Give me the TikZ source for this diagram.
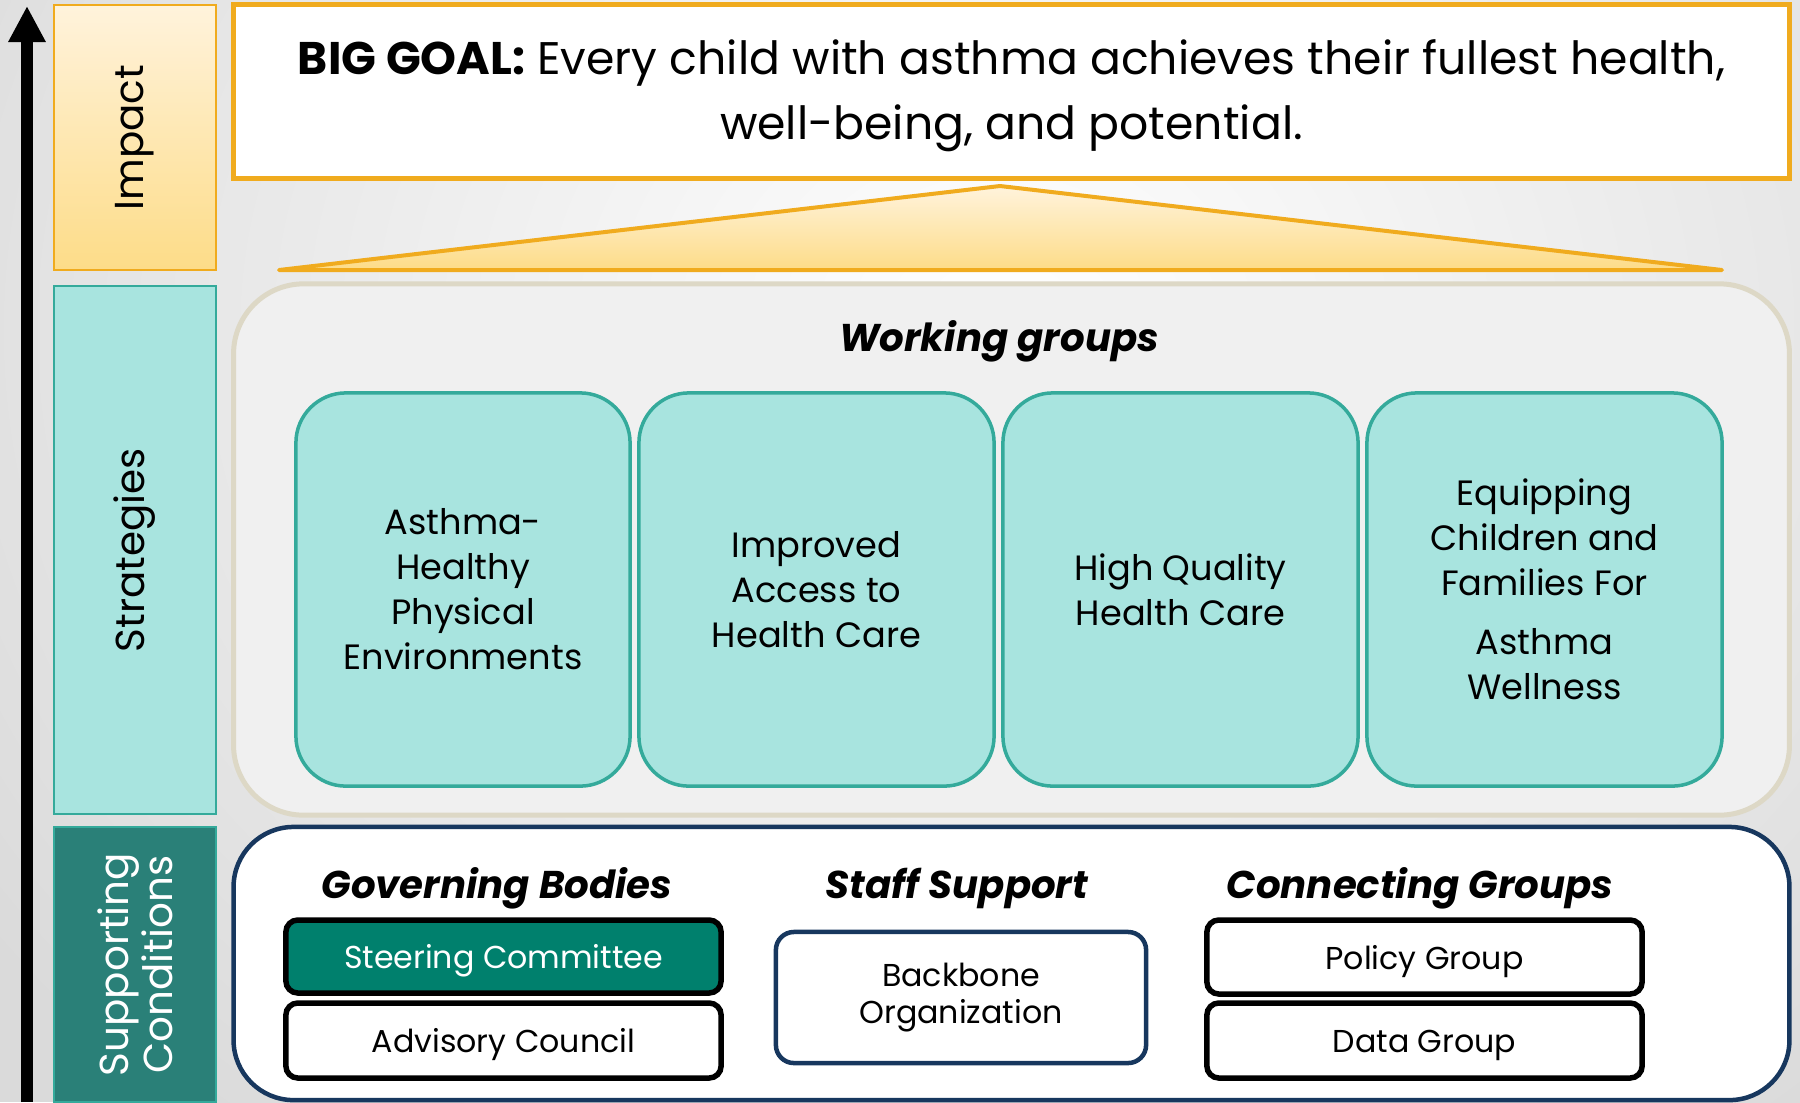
\documentclass[tikz,border=0pt]{standalone}
\usepackage{fontspec}
\setmainfont{Poppins}
\usetikzlibrary{arrows.meta}

\definecolor{goldline}{RGB}{240,171,30}
\definecolor{goldtop}{RGB}{255,243,220}
\definecolor{goldbot}{RGB}{253,220,136}
\definecolor{tealfill}{RGB}{168,228,223}
\definecolor{tealline}{RGB}{52,170,155}
\definecolor{supfill}{RGB}{42,128,120}
\definecolor{steerfill}{RGB}{0,128,109}
\definecolor{navyline}{RGB}{23,55,94}
\definecolor{beigeline}{RGB}{221,216,198}
\definecolor{panelfill}{RGB}{240,240,240}
\definecolor{bggray}{RGB}{218,218,218}

\begin{document}
\begin{tikzpicture}[x=0.01cm,y=-0.01cm]

	%DEFINITIONS
	\tikzstyle{every node}=[font=\fontsize{10}{12.8}\selectfont]
	\tikzstyle{sidebox} = [draw, line width=0.25mm, minimum width=1.62cm, inner sep=0pt]
	\tikzstyle{sidelabel} = [rotate=90, align=center, font=\fontsize{11.5}{13}\selectfont]
	\tikzstyle{panel} = [draw, minimum width=15.55cm, inner sep=0pt]
	\tikzstyle{group} = [draw=tealline, fill=tealfill, line width=0.35mm, rounded corners=0.5cm, minimum height=3.93cm, align=center, inner sep=0pt]
	\tikzstyle{header} = [font=\fontsize{11}{13}\selectfont\bfseries\itshape]
	\tikzstyle{body} = [draw=black, fill=white, line width=0.55mm, rounded corners=0.12cm, minimum width=4.35cm, minimum height=0.74cm, text height=9.3pt, text depth=2.3pt, font=\fontsize{9}{11}\selectfont]
	\tikzstyle{axis} = [line width=0.12cm, -{Triangle[width=3.5mm, length=3.6mm]}]

	%BACKGROUND
	\useasboundingbox (0,0) rectangle (1800,1102);
	\fill[bggray] (0,0) rectangle (1800,1102);
	\begin{scope}
		\clip (0,0) rectangle (1800,1102);
		\shade[inner color=white, outer color=bggray] (1000,330) ellipse (1250 and 1050);
	\end{scope}

	%ARROW
	\coordinate (axisbot) at (27,1102);
	\coordinate (axistop) at (27,6);
	\draw [axis] (axisbot) -- (axistop);

	%SIDE BLOCKS
	\draw(135,137.5) node[sidebox, draw=goldline, top color=goldtop, bottom color=goldbot, minimum height=2.65cm](impact){};
	\draw(135,550) node[sidebox, draw=tealline, fill=tealfill, minimum height=5.28cm](strat){};
	\draw(135,964.5) node[sidebox, draw=tealline, fill=supfill, minimum height=2.75cm](support){};
	\node[sidelabel] (impactlbl) at (impact) {Impact};
	\node[sidelabel] (stratlbl) at (strat) {Strategies};
	\node[sidelabel, text=white, font=\fontsize{11.5}{12.5}\selectfont] (supportlbl) at (support) {Supporting\\Conditions};

	%GOAL
	\draw(1011.5,91.5) node[panel, draw=goldline, fill=white, line width=0.05cm, minimum height=1.73cm](goal){};
	\draw(1011.5,96) node[align=center, font=\fontsize{13}{18.5}\selectfont](goaltext){\textbf{BIG GOAL:} Every child with asthma achieves their fullest health,\\well-being, and potential.};
	\coordinate (apex) at (1000,186);
	\coordinate (baseL) at (279,270);
	\coordinate (baseR) at (1722,270);
	\draw [goldline, line width=0.04cm, line join=round, top color=goldtop, bottom color=goldbot] (apex) -- (baseR) -- (baseL) -- cycle;

	%WORKING GROUPS
	\draw(1011.5,549.5) node[panel, draw=beigeline, fill=panelfill, line width=0.05cm, rounded corners=0.7cm, minimum height=5.31cm](work){};
	\draw(999,341) node[header](worktitle){Working groups};
	\draw(463,589.5) node[group, minimum width=3.34cm](g1){Asthma-\\Healthy\\Physical\\Environments};
	\draw(816.5,589.5) node[group, minimum width=3.55cm](g2){Improved\\Access to\\Health Care};
	\draw(1180.5,589.5) node[group, minimum width=3.55cm](g3){High Quality\\Health Care};
	\draw(1544.5,589.5) node[group, minimum width=3.55cm](g4){Equipping\\Children and\\Families For\\[1.4mm]Asthma\\Wellness};

	%SUPPORTING CONDITIONS
	\draw(1011.5,963.5) node[panel, draw=navyline, fill=white, line width=0.045cm, rounded corners=0.6cm, minimum height=2.73cm](base){};
	\draw(497,888) node[header](govtitle){Governing Bodies};
	\draw(957,888) node[header](stafftitle){Staff Support};
	\draw(1420,888) node[header](conntitle){Connecting Groups};
	\draw(503.5,956.5) node[body, fill=steerfill, text=white, minimum height=0.73cm](steer){Steering Committee};
	\draw(503.5,1040.5) node[body, minimum height=0.75cm](advisory){Advisory Council};
	\draw(961,997.5) node[body, draw=navyline, line width=0.45mm, rounded corners=0.18cm, minimum width=3.7cm, minimum height=1.31cm, text height=, text depth=, align=center, font=\fontsize{9}{10.5}\selectfont](backbone){Backbone\\Organization};
	\draw(1424.5,957) node[body](policy){Policy Group};
	\draw(1424.5,1040.5) node[body, minimum height=0.75cm](data){Data Group};
\end{tikzpicture}
\end{document}
